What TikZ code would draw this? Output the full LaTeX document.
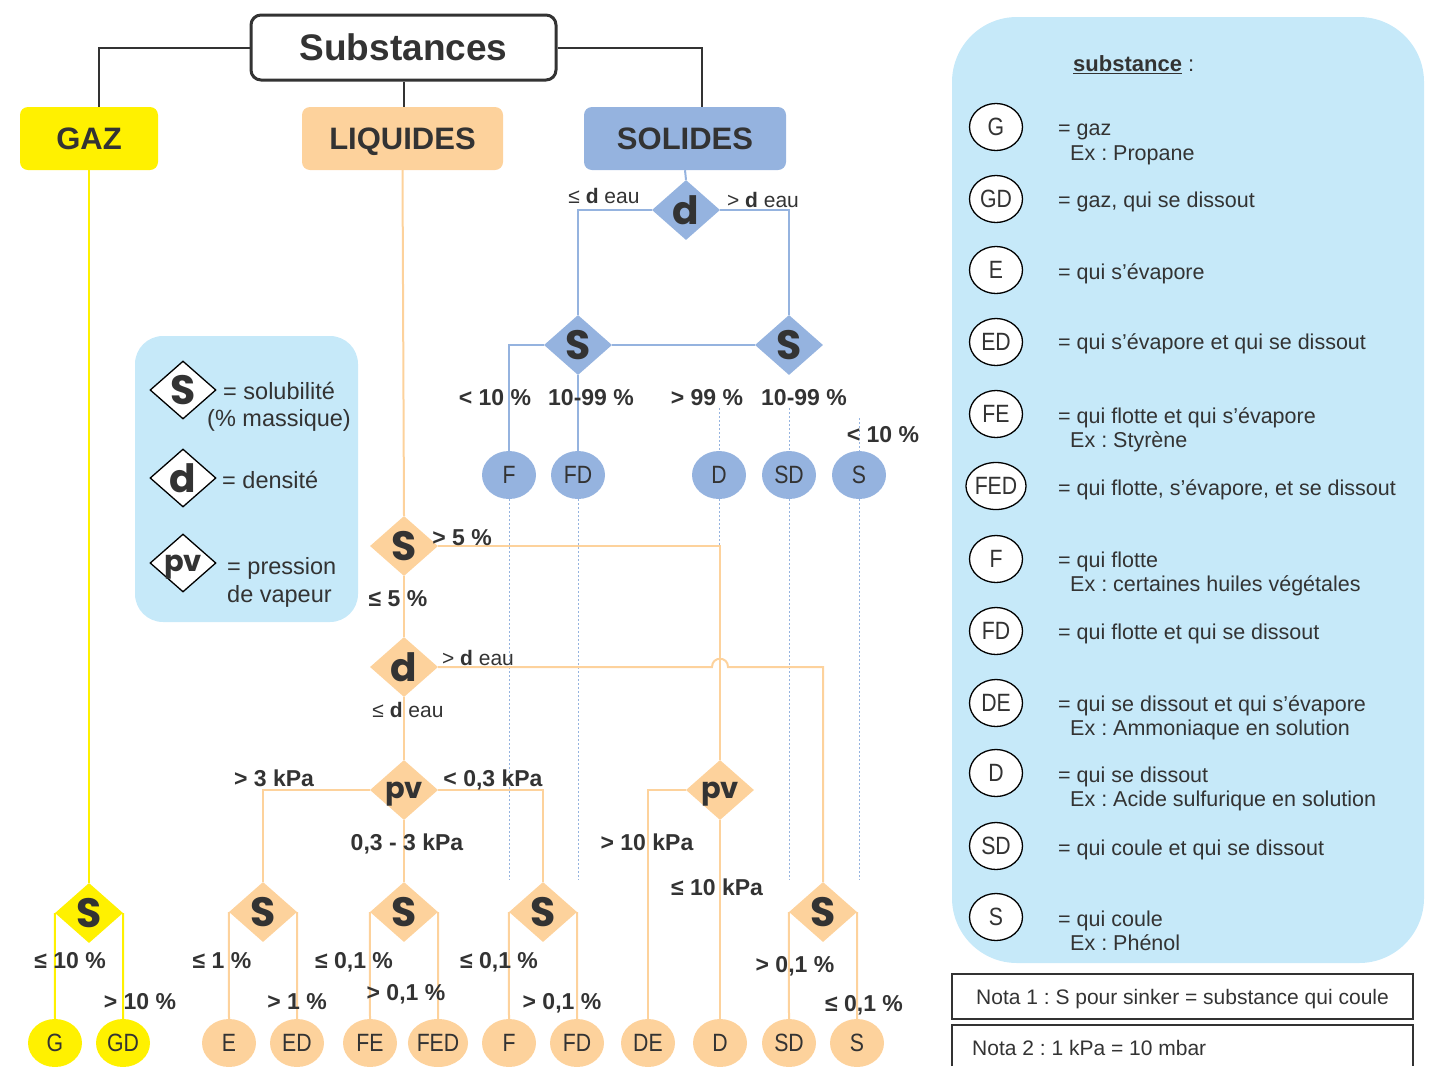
\documentclass[tikz,border=0pt]{standalone}
\usepackage{fontspec}
\setmainfont{Liberation Sans}
\newfontfamily\geo{Poppins}
\newfontfamily\narrow{Liberation Sans}[FakeStretch=0.85]
\usetikzlibrary{shapes.geometric,calc}
\definecolor{cyel}{HTML}{FFF100}
\definecolor{cpch}{HTML}{FDD29C}
\definecolor{cblu}{HTML}{95B3DF}
\definecolor{clbg}{HTML}{C6E9F9}
\definecolor{ctxt}{HTML}{333333}
\frenchspacing
\begin{document}
\begin{tikzpicture}[x=1pt,y=-1pt,
  every node/.style={text=ctxt},
  hdr/.style={rounded corners=8pt, minimum height=63pt, inner sep=0pt, text depth=0pt, font=\bfseries\fontsize{31}{31}\selectfont},
  dia/.style={diamond, minimum width=68pt, minimum height=60pt, inner sep=0pt},
  dlt/.style={font=\geo\bfseries\fontsize{41}{41}\selectfont, text=ctxt, inner sep=0pt, text depth=0pt},
  dS/.style={dia, label={[dlt]center:S}},
  dd/.style={dia, label={[dlt, font=\geo\bfseries\fontsize{39}{39}\selectfont]center:d}},
  dpv/.style={dia, label={[dlt, font=\geo\bfseries\fontsize{29}{29}\selectfont]center:pv}},
  leaf/.style={ellipse, minimum width=54pt, minimum height=48pt, inner sep=0pt, text depth=0pt, font=\narrow\fontsize{25}{25}\selectfont},
  lbl/.style={font=\bfseries\fontsize{23}{23}\selectfont, inner sep=0pt, text depth=0pt},
  sm/.style={font=\fontsize{21}{21}\selectfont, inner sep=0pt, text depth=0pt},
  lt/.style={font=\fontsize{21.5}{21.5}\selectfont, inner sep=0pt, anchor=west, text depth=0pt},
  lgc/.style={ellipse, draw=black, line width=1.3pt, fill=white, minimum width=53pt, minimum height=47pt, inner sep=0pt, text depth=0pt, font=\narrow\fontsize{25}{25}\selectfont},
  ly/.style={cyel, line width=2pt},
  lo/.style={cpch, line width=2pt},
  lb/.style={cblu, line width=2pt},
  dots/.style={cblu, line width=1pt, dash pattern=on 2pt off 2pt}
]
\useasboundingbox (0,0) rectangle (1437,1066);

% ---------- legend boxes ----------
\fill[clbg, rounded corners=28pt] (135,336) rectangle (358,622);
\fill[clbg, rounded corners=65pt] (952,17) rectangle (1424,963);

% ---------- top ----------
\node[draw=ctxt, line width=3pt, rounded corners=10pt, minimum width=305pt, minimum height=65pt, inner sep=0pt, fill=white, text depth=0pt, font=\bfseries\fontsize{37}{37}\selectfont] (subst) at (403.5,47.5) {Substances};
\node[hdr, fill=cyel, minimum width=138pt] (gaz) at (89,138.5) {GAZ};
\node[hdr, fill=cpch, minimum width=201pt] (liq) at (402.5,138.5) {LIQUIDES};
\node[hdr, fill=cblu, minimum width=202pt] (sol) at (685,138.5) {SOLIDES};
\draw[ctxt, line width=2pt] (subst.west) -| ($(gaz.north)+(10,0)$);
\draw[ctxt, line width=2pt] (subst.east) -| ($(sol.north)+(17,0)$);
\draw[ctxt, line width=2pt] (subst.south) -- (subst.south |- liq.north);

% ---------- solids ----------
\node[dd, fill=cblu] (sd) at (686,210) {};
\node[dS, fill=cblu] (ss1) at (578,345) {};
\node[dS, fill=cblu] (ss2) at (789,345) {};
\node[leaf, fill=cblu] (sF) at (509,475) {F};
\node[leaf, fill=cblu] (sFD) at (578,475) {FD};
\node[leaf, fill=cblu] (sD) at (719,475) {D};
\node[leaf, fill=cblu] (sSD) at (789,475) {SD};
\node[leaf, fill=cblu] (sS) at (859,475) {S};
\coordinate (dD1) at (719,408);
\coordinate (dSD1) at (789,408);
\coordinate (dS1) at (859,418);
\coordinate (dF2) at (509,880);
\coordinate (dFD2) at (578,880);
\coordinate (dD2) at (719,545);
\coordinate (dSD2) at (789,880);
\coordinate (dS2) at (859,880);
\draw[dots] (dD1) -- (sD.north);
\draw[dots] (dSD1) -- (sSD.north);
\draw[dots] (dS1) -- (sS.north);
\draw[dots] (sF.south) -- (dF2);
\draw[dots] (sFD.south) -- (dFD2);
\draw[dots] (sD.south) -- (dD2);
\draw[dots] (sSD.south) -- (dSD2);
\draw[dots] (sS.south) -- (dS2);
\draw[lb] (sol.south) -- (sd.north);
\draw[lb] (sd.west) -| (ss1.north);
\draw[lb] (sd.east) -| (ss2.north);
\draw[lb] (ss1.west) -| (sF.north);
\draw[lb] (ss1.south) -- (sFD.north);
\draw[lb] (ss1.east) -- (ss2.west);
\node[sm] at (604,196) {≤ \textbf{d} eau};
\node[sm] at (763,200) {> \textbf{d} eau};
\node[lbl] at (495,397) {< 10 \%};
\node[lbl] at (591,397) {10-99 \%};
\node[lbl] at (707,397) {> 99 \%};
\node[lbl] at (804,397) {10-99 \%};
\node[lbl] at (883,434) {< 10 \%};

% ---------- gaz ----------
\node[dS, fill=cyel] (gs) at (89,913) {};
\node[leaf, fill=cyel] (gG) at (55,1043) {G};
\node[leaf, fill=cyel] (gGD) at (123,1043) {GD};
\draw[ly] (gaz.south) -- (gs.north);
\draw[ly] (gs.west) -- (gG.north);
\draw[ly] (gs.east) -- (gGD.north);
\node[lbl] at (70,960) {≤ 10 \%};
\node[lbl] at (140,1001) {> 10 \%};

% ---------- liquids ----------
\node[dS, fill=cpch] (ls1) at (404,546) {};
\node[dd, fill=cpch] (ld) at (404,667) {};
\node[dpv, fill=cpch] (lpv1) at (404,790) {};
\node[dpv, fill=cpch] (lpv2) at (720,790) {};
\node[dS, fill=cpch] (lsA) at (263,912) {};
\node[dS, fill=cpch] (lsB) at (404,912) {};
\node[dS, fill=cpch] (lsC) at (543,912) {};
\node[dS, fill=cpch] (lsD) at (823,912) {};
\node[leaf, fill=cpch] (lE) at (229,1043) {E};
\node[leaf, fill=cpch] (lED) at (297,1043) {ED};
\node[leaf, fill=cpch] (lFE) at (370,1043) {FE};
\node[leaf, fill=cpch] (lFED) at (438,1043) {FED};
\node[leaf, fill=cpch] (lF) at (509,1043) {F};
\node[leaf, fill=cpch] (lFD) at (577,1043) {FD};
\node[leaf, fill=cpch] (lDE) at (648,1043) {DE};
\node[leaf, fill=cpch] (lD) at (720,1043) {D};
\node[leaf, fill=cpch] (lSD) at (789,1043) {SD};
\node[leaf, fill=cpch] (lS) at (857,1043) {S};
\coordinate (bj) at (lpv2.north |- ld.east);
\draw[lo] (liq.south) -- (ls1.north);
\draw[lo] (ls1.south) -- (ld.north);
\draw[lo] (ls1.east) -| (lpv2.north);
\draw[lo] (ld.south) -- (lpv1.north);
\draw[lo] (ld.east) -- ([xshift=-8pt]bj) .. controls ([xshift=-8pt,yshift=11pt]bj) and ([xshift=8pt,yshift=11pt]bj) .. ([xshift=8pt]bj) -| (lsD.north);
\draw[lo] (lpv1.west) -| (lsA.north);
\draw[lo] (lpv1.east) -| (lsC.north);
\draw[lo] (lpv1.south) -- (lsB.north);
\draw[lo] (lpv2.west) -| (lDE.north);
\draw[lo] (lpv2.south) -- (lD.north);
\draw[lo] (lsA.west) -- (lE.north);
\draw[lo] (lsA.east) -- (lED.north);
\draw[lo] (lsB.west) -- (lFE.north);
\draw[lo] (lsB.east) -- (lFED.north);
\draw[lo] (lsC.west) -- (lF.north);
\draw[lo] (lsC.east) -- (lFD.north);
\draw[lo] (lsD.west) -- (lSD.north);
\draw[lo] (lsD.east) -- (lS.north);
\node[lbl] at (462,537) {> 5 \%};
\node[lbl] at (398,598) {≤ 5 \%};
\node[sm] at (478,658) {> \textbf{d} eau};
\node[sm] at (408,710) {≤ \textbf{d} eau};
\node[lbl] at (274,778) {> 3 kPa};
\node[lbl] at (493,778) {< 0,3 kPa};
\node[lbl] at (407,842) {0,3 - 3 kPa};
\node[lbl] at (647,842) {> 10 kPa};
\node[lbl] at (717,887) {≤ 10 kPa};
\node[lbl] at (222,960) {≤ 1 \%};
\node[lbl] at (297,1001) {> 1 \%};
\node[lbl] at (354,960) {≤ 0,1 \%};
\node[lbl] at (406,992) {> 0,1 \%};
\node[lbl] at (499,960) {≤ 0,1 \%};
\node[lbl] at (562,1001) {> 0,1 \%};
\node[lbl] at (795,964) {> 0,1 \%};
\node[lbl] at (864,1003) {≤ 0,1 \%};

% ---------- small legend ----------
\node[dS, fill=white, draw=black, line width=1.3pt, minimum width=66pt, minimum height=58pt] (kS) at (183,390) {};
\node[dd, fill=white, draw=black, line width=1.3pt, minimum width=66pt, minimum height=58pt] (kd) at (183,478) {};
\node[dpv, fill=white, draw=black, line width=1.3pt, minimum width=66pt, minimum height=58pt] (kpv) at (183,563) {};
\begin{scope}[every node/.style={text=ctxt, font=\fontsize{23.5}{23.5}\selectfont, inner sep=0pt, anchor=west, text depth=0pt}]
\node at (223,391) {= solubilité};
\node at (207,418) {(\% massique)};
\node at (222,480) {= densité};
\node at (227,566) {= pression};
\node at (227,594) {de vapeur};
\end{scope}

% ---------- right legend ----------
\node[lt, font=\fontsize{22}{22}\selectfont] at (1073,64) {\textbf{\underline{substance}} :};
\node[lgc] (kG) at (996,127) {G};
\node[lgc] (kGD) at (996,199) {GD};
\node[lgc] (kE) at (996,270) {E};
\node[lgc] (kED) at (996,342) {ED};
\node[lgc] (kFE) at (996,414) {FE};
\node[lgc] (kFED) at (996,486) {FED};
\node[lgc] (kF) at (996,559) {F};
\node[lgc] (kFD) at (996,631) {FD};
\node[lgc] (kDE) at (996,703) {DE};
\node[lgc] (kD) at (996,773) {D};
\node[lgc] (kSD) at (996,846) {SD};
\node[lgc] (kSS) at (996,917) {S};
\node[lt] at (1058,130) {= gaz};
\node[lt] at (1070,153) {Ex : Propane};
\node[lt] at (1058,200) {= gaz, qui se dissout};
\node[lt] at (1058,272) {= qui s’évapore};
\node[lt] at (1058,342) {= qui s’évapore et qui se dissout};
\node[lt] at (1058,416) {= qui flotte et qui s’évapore};
\node[lt] at (1070,440) {Ex : Styrène};
\node[lt] at (1058,488) {= qui flotte, s’évapore, et se dissout};
\node[lt] at (1058,560) {= qui flotte};
\node[lt] at (1070,584) {Ex : certaines huiles végétales};
\node[lt] at (1058,632) {= qui flotte et qui se dissout};
\node[lt] at (1058,704) {= qui se dissout et qui s’évapore};
\node[lt] at (1070,728) {Ex : Ammoniaque en solution};
\node[lt] at (1058,775) {= qui se dissout};
\node[lt] at (1070,799) {Ex : Acide sulfurique en solution};
\node[lt] at (1058,848) {= qui coule et qui se dissout};
\node[lt] at (1058,919) {= qui coule};
\node[lt] at (1070,943) {Ex : Phénol};

% ---------- notes ----------
\node[draw=ctxt, line width=1.3pt, minimum width=461pt, minimum height=45pt, inner sep=0pt, text depth=0pt, font=\fontsize{21}{21}\selectfont] (n1) at (1182.5,996.5) {Nota 1 : S pour sinker = substance qui coule};
\coordinate (n2a) at (952,1066);
\coordinate (n2b) at (1413,1066);
\draw[ctxt, line width=1.3pt] (n2a) -- (952,1025) -- (1413,1025) -- (n2b);
\node[lt, font=\fontsize{21}{21}\selectfont] (n2) at (972,1048) {Nota 2 : 1 kPa = 10 mbar};
\end{tikzpicture}
\end{document}
